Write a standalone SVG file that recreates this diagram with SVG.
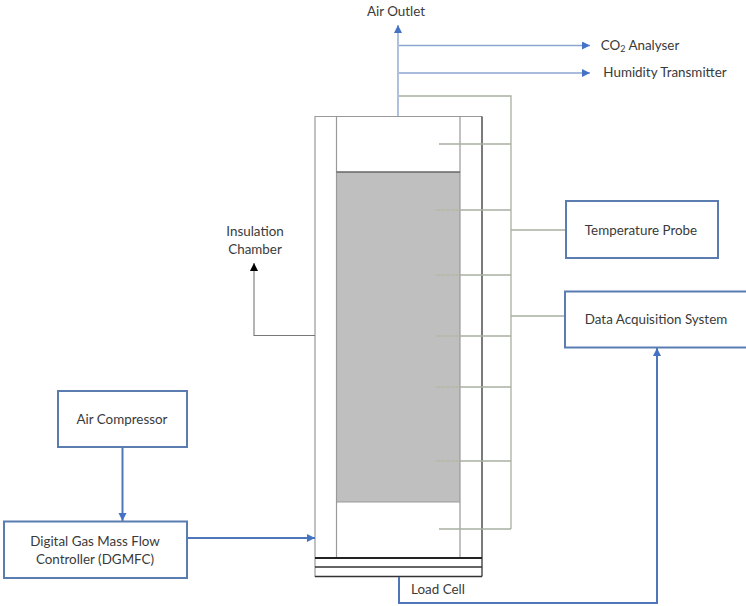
<svg xmlns="http://www.w3.org/2000/svg" width="746" height="606" viewBox="0 0 746 606">
<defs>
<marker id="ab" markerUnits="userSpaceOnUse" markerWidth="9" markerHeight="9" refX="8" refY="4" orient="auto"><path d="M0 0L8 4L0 8Z" fill="#4472c4"/></marker>
<marker id="ak" markerUnits="userSpaceOnUse" markerWidth="9" markerHeight="9" refX="8" refY="4" orient="auto"><path d="M0 0L8 4L0 8Z" fill="#000"/></marker>
</defs>
<style>
text{font-family:"Lato","Open Sans","Liberation Sans",sans-serif;font-size:13.4px;fill:#3a3a3a;text-anchor:middle}
.box{fill:#fff;stroke:#5b7cb0;stroke-width:2}
.s{fill:none;stroke:#a9b0a2;stroke-width:1.3}
.blue{fill:none;stroke:#4f76bb;stroke-width:2;marker-end:url(#ab)}
.thin{fill:none;stroke:#8ea6cf;stroke-width:1.4;marker-end:url(#ab)}
.g{fill:none;stroke:#999;stroke-width:1.2}
.d{fill:none;stroke:#333;stroke-width:1.3}
.probe{stroke:#a8b48c;stroke-width:1.2;stroke-dasharray:1.5 1;fill:none}
</style>
<g id="column">
<rect x="315" y="116.5" width="167" height="460" fill="#fff" stroke="none"/>
<rect x="337" y="172" width="123" height="330" fill="#bfbfbf"/>
<path class="g" d="M482 116.5H315V576.5H482"/>
<path class="g" d="M336.5 116.5V558M460 116.5V558"/>
<path d="M336.5 172H460" stroke="#666" stroke-width="1.4"/>
<path d="M336.5 502H460" stroke="#999" stroke-width="1"/>
<path class="d" d="M482 116.5V576.5"/>
<path d="M315 558H482" stroke="#222" stroke-width="1.8"/>
<path class="d" d="M315 567H482M315 576.5H482"/>
</g>
<g id="connectors">
<path class="s" d="M399 96H511V529"/>
<path class="s" d="M439 144H511M460 210H511M460 275H511M460 336H511M460 387H511M460 461H511M439 529H511"/>
<path class="probe" d="M436 210H460M436 275H460M436 336H460M436 387H460M436 461H460"/>
<path class="s" d="M511 230H566M511 316H565"/>
<path class="thin" d="M398 116V25"/>
<path class="thin" d="M399 45.500H590"/>
<path class="thin" d="M399 73H590"/>
<path fill="none" stroke="#777" stroke-width="1.100" marker-end="url(#ak)" d="M315 335.500H254V263"/>
<path class="blue" d="M122.500 447V521"/>
<path class="blue" d="M188 538H315"/>
<path class="blue" d="M399 577V603H657V348"/>
</g>
<g id="air-compressor"><rect class="box" x="58" y="391" width="129" height="56"/><text x="122" y="424">Air Compressor</text></g>
<g id="dgmfc"><rect class="box" x="4" y="521.500" width="183" height="56.500"/><text x="95" y="546">Digital Gas Mass Flow</text><text x="95" y="564">Controller (DGMFC)</text></g>
<g id="temperature-probe"><rect class="box" x="566" y="201" width="152" height="57"/><text x="641" y="235">Temperature Probe</text></g>
<g id="data-acquisition"><rect class="box" x="565" y="291.500" width="190" height="56"/><text x="656" y="324">Data Acquisition System</text></g>
<g id="labels">
<text x="396" y="16">Air Outlet</text>
<text x="640" y="50">CO<tspan font-size="9" dy="2">2</tspan><tspan dy="-2"> Analyser</tspan></text>
<text x="665" y="77">Humidity Transmitter</text>
<text x="255" y="236">Insulation</text>
<text x="255" y="254">Chamber</text>
<text x="438" y="594">Load Cell</text>
</g>
</svg>
